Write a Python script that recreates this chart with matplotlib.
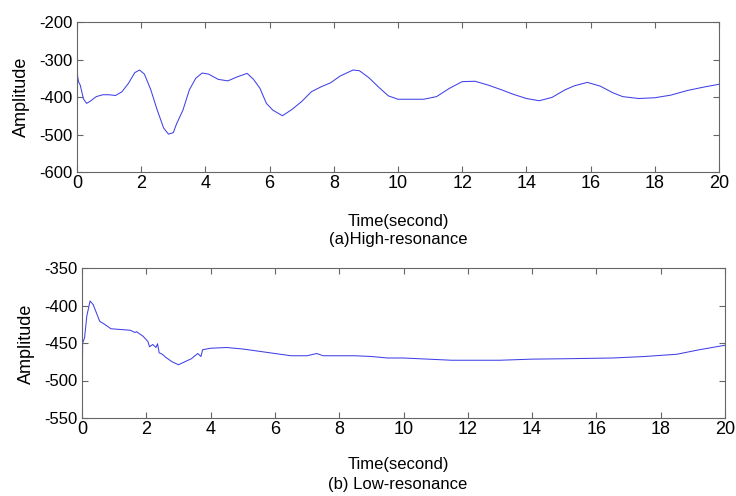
import matplotlib
matplotlib.use("Agg")
import matplotlib.pyplot as plt

plt.rcParams['font.family'] = ['Liberation Sans', 'DejaVu Sans']
plt.rcParams['axes.unicode_minus'] = False

# (a) High-resonance
t_high = [0.0, 0.02, 0.05, 0.1, 0.2, 0.3, 0.4, 0.6, 0.8, 1.0, 1.2, 1.4, 1.6, 1.8, 1.95,
          2.1, 2.3, 2.5, 2.7, 2.85, 3.0, 3.1, 3.3, 3.5, 3.7, 3.9, 4.1, 4.4, 4.7, 5.0,
          5.3, 5.5, 5.7, 5.9, 6.1, 6.4, 6.7, 7.0, 7.3, 7.6, 7.9, 8.2, 8.6, 8.8, 9.1,
          9.4, 9.7, 10.0, 10.8, 11.2, 11.6, 12.0, 12.4, 12.8, 13.2, 13.6, 14.0, 14.4,
          14.8, 15.2, 15.5, 15.9, 16.3, 16.7, 17.0, 17.5, 18.0, 18.5, 19.0, 19.5, 20.0]
a_high = [-320, -345, -360, -368, -405, -417, -412, -399, -394, -394, -396, -386, -364, -335, -328,
          -339, -381, -435, -483, -499, -495, -472, -435, -381, -350, -336, -339, -353, -357, -346,
          -337, -353, -377, -417, -435, -450, -433, -412, -386, -373, -362, -344, -328, -330, -349,
          -374, -397, -406, -406, -399, -377, -359, -358, -368, -380, -393, -404, -410,
          -401, -381, -370, -361, -371, -389, -399, -404, -402, -395, -383, -374, -366]

# (b) Low-resonance
t_low = [0.0, 0.02, 0.08, 0.15, 0.25, 0.35, 0.45, 0.55, 0.7, 0.9, 1.2, 1.5, 1.65, 1.7, 1.9,
         2.05, 2.1, 2.2, 2.3, 2.35, 2.4, 2.5, 2.6, 2.8, 3.0, 3.2, 3.4, 3.6, 3.7, 3.75,
         4.0, 4.5, 5.0, 5.5, 6.0, 6.5, 7.0, 7.3, 7.5, 8.0, 8.5, 9.0, 9.5, 10.0,
         11.5, 13.0, 14.0, 15.0, 16.5, 17.5, 18.5, 19.2, 20.0]
a_low = [-540, -450, -443, -414, -394, -399, -410, -421, -425, -431, -432, -433, -436, -435, -441,
         -448, -455, -452, -456, -451, -463, -465, -469, -475, -479, -475, -471, -464, -468, -459,
         -457, -456, -458, -461, -464, -467, -467, -464, -467, -467, -467, -468, -470, -470,
         -473, -473, -471.5, -471, -470, -468, -465, -459, -453]

xticks = list(range(0, 21, 2))
yticks_high = [-600, -500, -400, -300, -200]
yticks_low = [-550, -500, -450, -400, -350]

W, H = 736, 496
fig = plt.figure(figsize=(W / 100, H / 100), dpi=100)

ax1 = fig.add_axes([77 / W, 1 - 172 / H, (719 - 77) / W, 150 / H])
ax2 = fig.add_axes([82 / W, 1 - 418 / H, (725 - 82) / W, 150 / H])

line_color = '#4040e8'
spine_color = '#666666'
narrow = ['Liberation Sans Narrow', 'Liberation Sans', 'DejaVu Sans']

for ax, t, a, yt in [(ax1, t_high, a_high, yticks_high), (ax2, t_low, a_low, yticks_low)]:
    ax.plot(t, a, color=line_color, lw=0.75)
    ax.set_xlim(0, 20)
    ax.set_ylim(yt[0], yt[-1])
    ax.set_xticks(xticks)
    ax.set_yticks(yt)
    ax.tick_params(direction='in', length=4, width=0.8, color=spine_color,
                   top=True, right=True)
    ax.tick_params(axis='y', labelsize=12, pad=3)
    ax.tick_params(axis='x', labelsize=13, pad=2)
    for lab in ax.get_xticklabels():
        lab.set_family(narrow)
    for s in ax.spines.values():
        s.set_color(spine_color)
        s.set_linewidth(0.8)

fig.text(21 / W, 1 - 97 / H, 'Amplitude', rotation=90, ha='center', va='center', fontsize=13)
fig.text(26 / W, 1 - 344 / H, 'Amplitude', rotation=90, ha='center', va='center', fontsize=13)

fig.text(398 / W, 1 - 222 / H, 'Time(second)', ha='center', va='center', fontsize=12)
fig.text(398 / W, 1 - 239 / H, '(a)High-resonance', ha='center', va='center', fontsize=12)
fig.text(398 / W, 1 - 465 / H, 'Time(second)', ha='center', va='center', fontsize=12)
fig.text(398 / W, 1 - 484 / H, '(b) Low-resonance', ha='center', va='center', fontsize=12)

fig.savefig('out.png', dpi=100)
